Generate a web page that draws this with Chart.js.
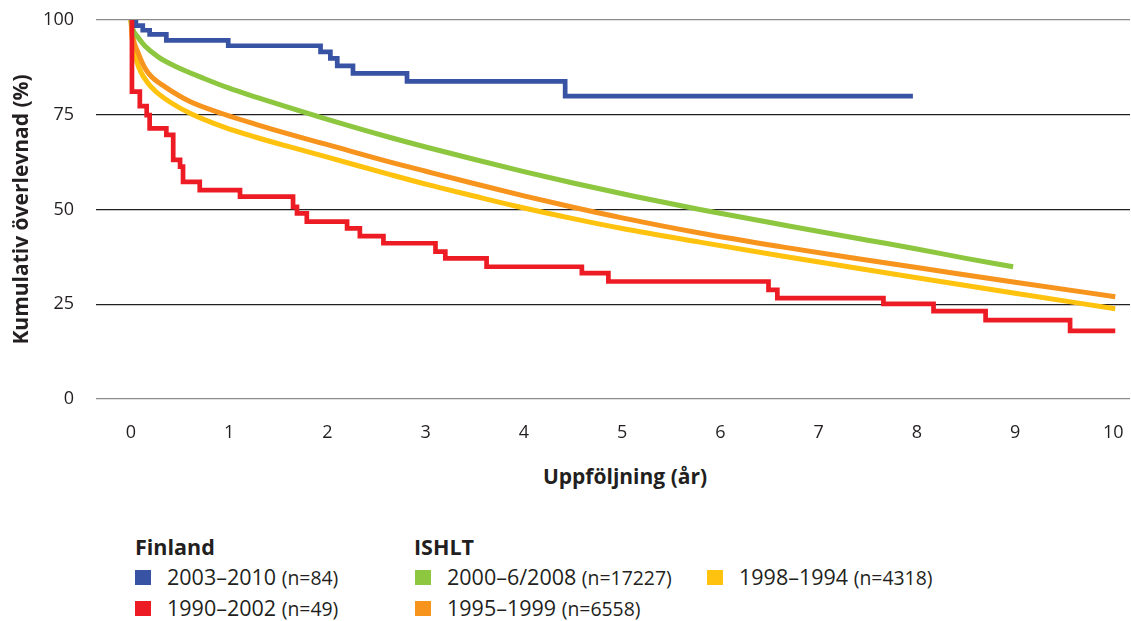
<!DOCTYPE html>
<html>
<head>
<meta charset="utf-8">
<script src="https://cdn.jsdelivr.net/npm/chart.js@4.4.0/dist/chart.umd.min.js"></script>
<style>
  html, body { margin: 0; padding: 0; background: #fff; }
  body { width: 1131px; height: 621px; position: relative; overflow: hidden; font-family: "Open Sans", sans-serif; color: #231f20; }
  #wrap { position: absolute; left: 0; top: 0; width: 1131px; height: 450px; }
  .xtitle { position: absolute; top: 466px; left: 505px; width: 240px; text-align: center; font-weight: bold; font-size: 21px; line-height: 21px; }
  .row { position: absolute; white-space: nowrap; font-size: 21.5px; line-height: 21.5px; }
  .head { font-weight: bold; }
  .row small { font-size: 19.4px; }
  .sw { position: absolute; width: 16px; height: 15px; }
</style>
</head>
<body>
<div id="wrap"><canvas id="chart"></canvas></div>
<div class="xtitle">Uppföljning (år)</div>

<div class="row head" style="left:135px; top:536px;">Finland</div>
<span class="sw" style="left:135px; top:570px; background:#3853a4"></span>
<div class="row" style="left:167px; top:566px;">2003–2010 <small>(n=84)</small></div>
<span class="sw" style="left:135px; top:601px; background:#ed1c24"></span>
<div class="row" style="left:167px; top:597px;">1990–2002 <small>(n=49)</small></div>

<div class="row head" style="left:414px; top:536px;">ISHLT</div>
<span class="sw" style="left:415px; top:570px; background:#8dc63f"></span>
<div class="row" style="left:447px; top:566px;">2000–6/2008 <small>(n=17227)</small></div>
<span class="sw" style="left:415px; top:601px; background:#f7941d"></span>
<div class="row" style="left:447px; top:597px;">1995–1999 <small>(n=6558)</small></div>
<span class="sw" style="left:707px; top:570px; background:#ffc20e"></span>
<div class="row" style="left:739px; top:566px;">1998–1994 <small>(n=4318)</small></div>

<script>
// Finland, Kaplan-Meier steps (year, survival %)
const blueYears = [0, 0.05, 0.12, 0.19, 0.36, 0.99, 1.93, 2.03, 2.10, 2.26, 2.81, 4.42, 7.96];
const blueSurv  = [100, 98.5, 97.3, 96.2, 94.6, 93.2, 91.6, 89.9, 87.9, 85.9, 83.8, 79.9, 79.9];

const redYears = [0, 0.01, 0.09, 0.16, 0.19, 0.36, 0.43, 0.50, 0.53, 0.70, 1.11, 1.65, 1.69, 1.79, 2.20,
                  2.33, 2.57, 3.10, 3.20, 3.62, 4.59, 4.86, 6.49, 6.58, 7.66, 8.17, 8.70, 9.56, 10.02];
const redSurv  = [100, 81.1, 77.3, 74.9, 71.4, 69.7, 63.1, 61.3, 57.3, 55.1, 53.4, 50.7, 49.0, 46.8, 45.0,
                  43.0, 41.1, 38.9, 37.1, 34.9, 33.2, 31.0, 28.8, 26.6, 25.1, 23.2, 20.8, 18.0, 18.0];

// ISHLT curves
const greenYears = [0, 0.02, 0.07, 0.14, 0.28, 0.45, 0.75, 1.0, 1.28, 1.62, 2.0, 2.64, 3.0, 3.5, 4.0,
                    4.5, 5.12, 5.79, 6.71, 7.5, 8.0, 8.5, 8.98];
const greenSurv  = [100, 97.5, 95.5, 93.2, 90.2, 87.8, 84.5, 82.0, 79.6, 76.8, 73.8, 69.0, 66.5, 63.2, 60.0,
                    57.0, 53.5, 50.0, 45.6, 41.9, 39.6, 37.1, 34.9];

const orangeYears = [0, 0.02, 0.07, 0.14, 0.21, 0.35, 0.6, 0.94, 1.28, 1.62, 2.0, 2.64, 3.0, 3.5, 4.0,
                     4.5, 5.0, 5.79, 6.61, 7.3, 8.0, 9.0, 10.02];
const orangeSurv  = [100, 95.5, 91.5, 87.4, 85.0, 82.3, 78.5, 75.2, 72.4, 69.8, 67.1, 62.5, 60.1, 56.8, 53.6,
                     50.6, 47.8, 43.8, 40.2, 37.4, 34.7, 30.8, 27.0];

const yellowYears = [0, 0.01, 0.03, 0.06, 0.1, 0.16, 0.25, 0.4, 0.6, 0.94, 1.28, 1.62, 2.0, 2.64, 3.0,
                     3.5, 3.9, 4.5, 5.0, 5.79, 6.61, 7.3, 8.0, 9.0, 10.02];
const yellowSurv  = [100, 95.5, 92.0, 89.0, 86.3, 83.8, 81.2, 78.3, 75.4, 71.8, 69.0, 66.5, 63.8, 59.2, 56.7,
                     53.5, 51.0, 47.6, 45.0, 41.4, 37.8, 34.9, 32.0, 27.9, 23.8];

const xTicks = [0, 1, 2, 3, 4, 5, 6, 7, 8, 9, 10];
const yTicks = [0, 25, 50, 75, 100];

function pts(xs, ys) {
    return xs.map((x, i) => ({ x: x, y: ys[i] }));
}

const stepLine = { stepped: true, borderWidth: 4.7, pointRadius: 0, fill: false, borderJoinStyle: 'miter', borderCapStyle: 'butt' };
const smoothLine = { borderWidth: 5, pointRadius: 0, fill: false, cubicInterpolationMode: 'monotone', borderCapStyle: 'butt' };

const data = {
    datasets: [
        { ...stepLine, label: '1990–2002', data: pts(redYears, redSurv), borderColor: '#ed1c24' },
        { ...stepLine, label: '2003–2010', data: pts(blueYears, blueSurv), borderColor: '#3853a4' },
        { ...smoothLine, label: '2000–6/2008', data: pts(greenYears, greenSurv), borderColor: '#8dc63f' },
        { ...smoothLine, label: '1995–1999', data: pts(orangeYears, orangeSurv), borderColor: '#f7941d' },
        { ...smoothLine, label: '1998–1994', data: pts(yellowYears, yellowSurv), borderColor: '#ffc20e' }
    ]
};

const tickFont = { family: '"Open Sans", sans-serif', size: 18 };

new Chart(document.getElementById('chart'), {
    type: 'line',
    data: data,
    options: {
        responsive: true,
        maintainAspectRatio: false,
        animation: false,
        layout: { padding: { top: 20, right: 1, left: 0, bottom: 0 } },
        plugins: { legend: { display: false }, tooltip: { enabled: false } },
        scales: {
            x: {
                type: 'linear',
                min: -0.356,
                max: 10.17,
                afterBuildTicks: (scale) => { scale.ticks = xTicks.map(v => ({ value: v })); },
                afterFit: (scale) => {
                    scale.height = 51;
                    scale.paddingLeft = 0;
                    scale.paddingRight = 0;
                },
                grid: { display: false },
                border: { display: false },
                ticks: { color: '#231f20', font: tickFont, padding: 15, maxRotation: 0 }
            },
            y: {
                min: 0,
                max: 100,
                afterBuildTicks: (scale) => { scale.ticks = yTicks.map(v => ({ value: v })); },
                afterFit: (scale) => {
                    scale.width = 96;
                    scale.paddingTop = 0;
                    scale.paddingBottom = 0;
                },
                border: { display: false },
                grid: {
                    drawTicks: false,
                    lineWidth: 1.2,
                    color: (ctx) => (ctx.tick && (ctx.tick.value === 0 || ctx.tick.value === 100)) ? '#8c8c8c' : '#231f20'
                },
                ticks: { color: '#231f20', font: tickFont, padding: 22 },
                title: {
                    display: true,
                    text: 'Kumulativ överlevnad (%)',
                    color: '#231f20',
                    font: { family: '"Open Sans", sans-serif', size: 21, weight: 'bold' },
                    padding: { top: 9, bottom: 0 }
                }
            }
        }
    }
});
</script>
</body>
</html>
